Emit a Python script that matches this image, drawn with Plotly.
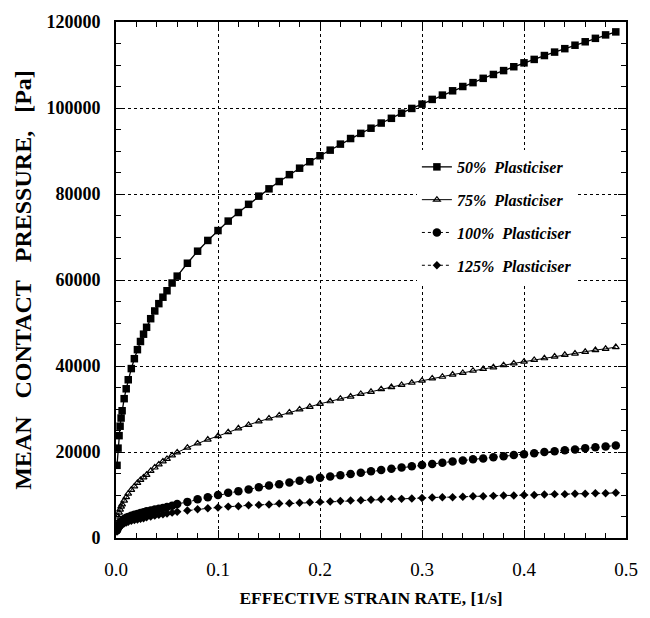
import plotly.graph_objects as go

# Shared strain-rate sample points [1/s]
strain_rate = [0.001, 0.002, 0.003, 0.004, 0.005, 0.006, 0.008, 0.010, 0.012, 0.015,
               0.018, 0.021, 0.024, 0.027, 0.030, 0.034, 0.038, 0.042, 0.046, 0.050,
               0.055, 0.060,
               0.07, 0.08, 0.09, 0.10, 0.11, 0.12, 0.13, 0.14, 0.15, 0.16, 0.17, 0.18,
               0.19, 0.20, 0.21, 0.22, 0.23, 0.24, 0.25, 0.26, 0.27, 0.28, 0.29, 0.30,
               0.31, 0.32, 0.33, 0.34, 0.35, 0.36, 0.37, 0.38, 0.39, 0.40, 0.41, 0.42,
               0.43, 0.44, 0.45, 0.46, 0.47, 0.48, 0.49]

# Mean contact pressure [Pa]
p_50 = [16900, 20900, 23800, 26000, 27900, 29600, 32400, 34700, 36800, 39400,
        41700, 43800, 45700, 47400, 49000, 51000, 52800, 54500, 56000, 57500,
        59300, 60900,
        63900, 66700, 69200, 71500, 73700, 75700, 77600, 79500, 81200, 82900, 84500, 86000,
        87500, 88900, 90200, 91600, 92900, 94100, 95300, 96500, 97600, 98800, 99900, 100900,
        102000, 103000, 104000, 105000, 105900, 106900, 107800, 108700, 109600, 110500, 111300, 112200,
        113000, 113800, 114600, 115400, 116200, 117000, 117700]

p_75 = [3500, 5000, 5900, 6600, 7300, 7800, 8700, 9500, 10300, 11200,
        12000, 12800, 13500, 14100, 14700, 15600, 16400, 17100, 17800, 18400,
        19200, 19900,
        21000, 22000, 22900, 23700, 24600, 25500, 26300, 27100, 27800, 28500, 29200, 29900,
        30500, 31200, 31800, 32400, 32900, 33500, 34000, 34600, 35100, 35600, 36100, 36600,
        37100, 37500, 38000, 38400, 38900, 39300, 39700, 40200, 40600, 41000, 41400, 41800,
        42200, 42600, 42900, 43300, 43700, 44000, 44400]

p_100 = [1800, 2500, 3000, 3400, 3700, 4000, 4400, 4700, 4900, 5200,
         5400, 5600, 5800, 6000, 6200, 6400, 6600, 6800, 7000, 7200,
         7500, 7900,
         8400, 9000, 9500, 10000, 10500, 10900, 11300, 11800, 12200, 12500, 12900, 13300,
         13600, 14000, 14300, 14600, 14900, 15200, 15500, 15800, 16100, 16400, 16700, 17000,
         17200, 17500, 17800, 18000, 18300, 18500, 18800, 19000, 19300, 19500, 19700, 20000,
         20200, 20400, 20600, 20900, 21100, 21300, 21500]

p_125 = [1500, 2000, 2400, 2700, 2900, 3100, 3400, 3600, 3800, 4000,
         4200, 4300, 4500, 4600, 4800, 5000, 5200, 5400, 5500, 5700,
         5900, 6100,
         6400, 6700, 6900, 7100, 7300, 7400, 7600, 7700, 7800, 8000, 8100, 8200,
         8300, 8400, 8500, 8600, 8700, 8800, 8900, 9000, 9100, 9100, 9200, 9300,
         9400, 9500, 9500, 9600, 9700, 9700, 9800, 9900, 9900, 10000, 10000, 10100,
         10200, 10200, 10300, 10300, 10400, 10400, 10500]

series_names = ["50%\u00a0 Plasticiser", "75%\u00a0 Plasticiser",
                "100%\u00a0 Plasticiser", "125%\u00a0 Plasticiser"]

x_ticks = [0.0, 0.1, 0.2, 0.3, 0.4, 0.5]
x_tick_text = ["0.0", "0.1", "0.2", "0.3", "0.4", "0.5"]
y_ticks = [0, 20000, 40000, 60000, 80000, 100000, 120000]
y_tick_text = ["0", "20000", "40000", "60000", "80000", "100000", "120000"]

SERIF = "Liberation Serif"
NB = "\u00a0"

styles = [
    dict(line=dict(color="black", width=1.3, dash="solid"),
         marker=dict(symbol="square", size=7.5, color="black")),
    dict(line=dict(color="black", width=1, dash="solid"),
         marker=dict(symbol="triangle-up-open", size=6, color="black", line=dict(width=1.2))),
    dict(line=dict(color="black", width=1, dash="dot"),
         marker=dict(symbol="circle", size=8.5, color="black")),
    dict(line=dict(color="black", width=1, dash="dot"),
         marker=dict(symbol="diamond", size=6.5, color="black")),
]

fig = go.Figure()
for i, (name, ys) in enumerate(zip(series_names, [p_50, p_75, p_100, p_125])):
    fig.add_trace(go.Scatter(x=strain_rate, y=ys, mode="lines+markers", name=name,
                             legendgroup=f"g{i}", **styles[i]))

axis_common = dict(
    showline=True, linecolor="black", linewidth=2, mirror="ticks",
    ticks="inside", tickcolor="black", tickwidth=1.2, ticklen=8,
    showgrid=True, gridcolor="black", gridwidth=1, griddash="dot",
    zeroline=False,
)

fig.update_xaxes(
    range=[0, 0.5], tickvals=x_ticks, ticktext=x_tick_text,
    minor=dict(ticks="inside", ticklen=5, tickcolor="black", dtick=0.02, showgrid=False, tick0=0),
    tickfont=dict(family=SERIF, size=19, color="black"),
    ticklabelstandoff=13,
    title=dict(text="EFFECTIVE STRAIN RATE, [1/s]",
               font=dict(family=SERIF, size=17.5, color="black", weight="bold"), standoff=13),
    **axis_common,
)
fig.update_yaxes(
    range=[0, 120000], tickvals=y_ticks, ticktext=y_tick_text,
    minor=dict(ticks="inside", ticklen=5, tickcolor="black", dtick=5000, showgrid=False, tick0=0),
    tickfont=dict(family=SERIF, size=18, color="black", weight="bold"),
    ticklabelstandoff=10,
    title=dict(text=f"MEAN{NB}{NB} CONTACT{NB}{NB} PRESSURE,{NB}{NB} [Pa]",
               font=dict(family=SERIF, size=24, color="black", weight="bold"), standoff=8),
    **axis_common,
)

fig.update_layout(
    width=650, height=618,
    margin=dict(l=116, r=22, t=19, b=80),
    paper_bgcolor="white", plot_bgcolor="white",
    showlegend=True,
    legend=dict(x=0.59, y=0.752, xanchor="left", yanchor="top",
                bgcolor="white", borderwidth=0, tracegroupgap=9,
                font=dict(family=SERIF, size=16, color="black", style="italic", weight="bold")),
)

fig.write_html("out.html")
